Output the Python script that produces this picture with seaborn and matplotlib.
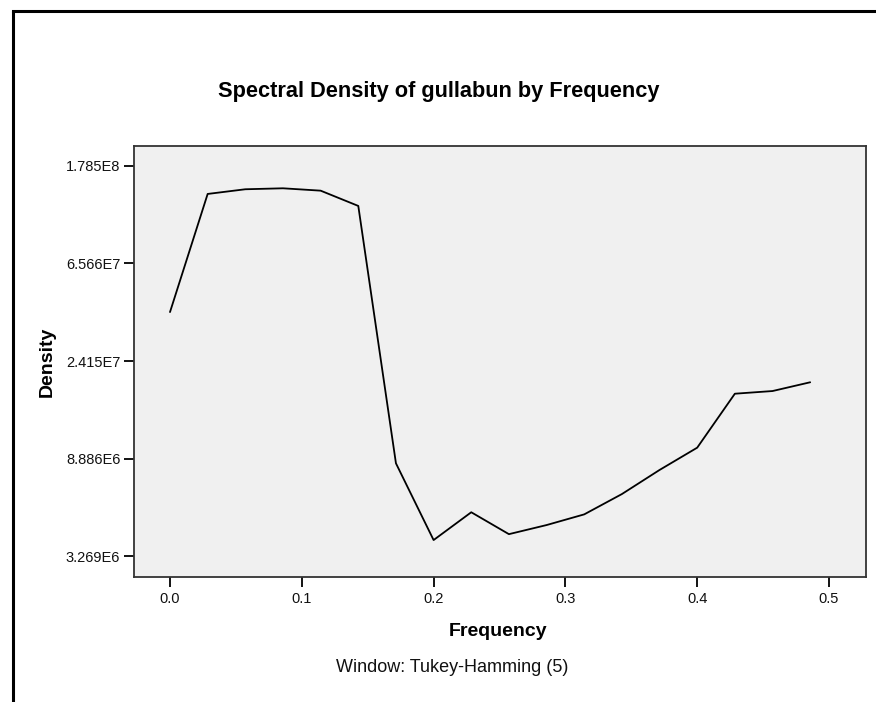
import numpy as np
import pandas as pd
import matplotlib
matplotlib.use("Agg")
import matplotlib.pyplot as plt
from matplotlib.lines import Line2D
from matplotlib.ticker import FixedLocator, NullLocator
import seaborn as sns

# ---- data ----
frequency = [k / 35 for k in range(18)]
density = [3.99e7, 1.340e8, 1.406e8, 1.420e8, 1.386e8, 1.185e8,
           8.46e6, 3.85e6, 5.12e6, 4.09e6, 4.49e6, 5.01e6,
           6.17e6, 7.90e6, 9.93e6, 1.727e7, 1.775e7, 1.942e7]
y_ticks = [3.269e6, 8.886e6, 2.415e7, 6.566e7, 1.785e8]
y_tick_labels = ["3.269E6", "8.886E6", "2.415E7", "6.566E7", "1.785E8"]
x_ticks = [0.0, 0.1, 0.2, 0.3, 0.4, 0.5]
x_tick_labels = ["0.0", "0.1", "0.2", "0.3", "0.4", "0.5"]

df = pd.DataFrame({"Frequency": frequency, "Density": density})

sns.set_theme(style="white")
plt.rcParams["font.family"] = ["Liberation Sans", "DejaVu Sans"]

W, H = 876, 702
fig = plt.figure(figsize=(W / 100, H / 100), dpi=100)
left, right, top, bottom = 133.5, 866, 146, 577
ax = fig.add_axes([left / W, 1 - bottom / H, (right - left) / W, (bottom - top) / H])
ax.set_facecolor("#f0f0f0")

sns.lineplot(data=df, x="Frequency", y="Density", ax=ax, color="black",
             linewidth=1.3, estimator=None, sort=False)

ax.set_yscale("log")
ymin = np.exp(15 - (577 - 556) / 97.5)
ymax = np.exp(19 + (166 - 146) / 97.5)
ax.set_ylim(ymin, ymax)
x0 = -(170 - left) / 1318
x1 = (right - 170) / 1318
ax.set_xlim(x0, x1)

ax.yaxis.set_major_locator(FixedLocator(y_ticks))
ax.yaxis.set_minor_locator(NullLocator())
ax.set_yticklabels(y_tick_labels)
ax.set_xticks(x_ticks)
ax.set_xticklabels(x_tick_labels)
ax.tick_params(axis="both", which="major", direction="out", length=7, width=1.3,
               color="black", labelsize=10.5, labelcolor="#111111", bottom=True, left=True)
ax.tick_params(axis="y", pad=2.5)
ax.tick_params(axis="x", pad=4)

for s in ax.spines.values():
    s.set_visible(True)
    s.set_color("#333333")
    s.set_linewidth(1.3)

ax.set_xlabel("")
ax.set_ylabel("")

fig.text(439 / W, 1 - 92 / H, "Spectral Density of gullabun by Frequency",
         ha="center", va="center", fontsize=15.7, fontweight="bold", color="black")
fig.text(498 / W, 1 - 632 / H, "Frequency", ha="center", va="center",
         fontsize=14, fontweight="bold", color="black")
fig.text(47 / W, 1 - 362 / H, "Density", ha="center", va="center", rotation=90,
         fontsize=14, fontweight="bold", color="black")
fig.text(452 / W, 1 - 667 / H, "Window: Tukey-Hamming (5)", ha="center", va="center",
         fontsize=13, color="#111111")

# outer frame (left and top)
fig.add_artist(Line2D([12.5 / W, 12.5 / W], [0, 1 - 11 / H], transform=fig.transFigure,
                      color="black", linewidth=2.2))
fig.add_artist(Line2D([12.5 / W, 1], [1 - 11 / H, 1 - 11 / H], transform=fig.transFigure,
                      color="black", linewidth=2.2, solid_capstyle="projecting"))

fig.savefig("out.png", dpi=100, facecolor="white")
